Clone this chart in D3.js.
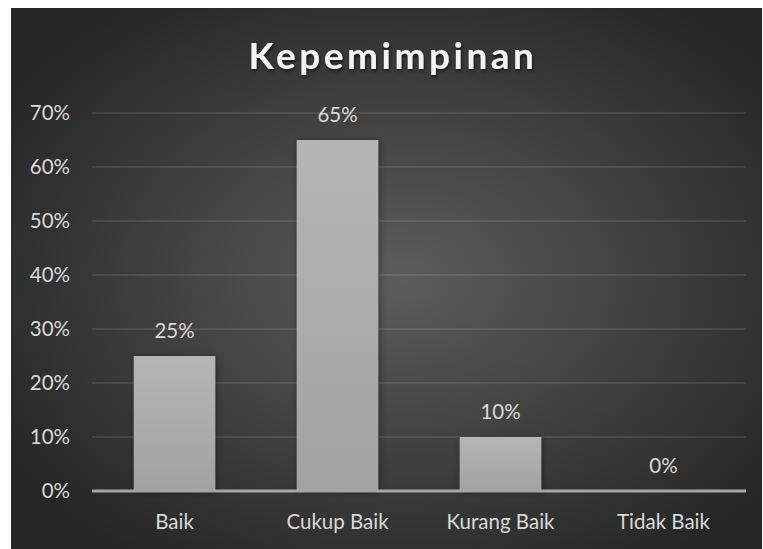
<!DOCTYPE html>
<html><head><meta charset="utf-8">
<script src="https://cdn.jsdelivr.net/npm/d3@7"></script>
<style>body{margin:0;background:#fff;}svg{display:block;}</style>
</head><body>
<script>
const categories = ["Baik", "Cukup Baik", "Kurang Baik", "Tidak Baik"];
const values = [0.25, 0.65, 0.10, 0.0];
const yTicks = [0, 0.1, 0.2, 0.3, 0.4, 0.5, 0.6, 0.7];
const title = "Kepemimpinan";

const W = 763, H = 549;
const svg = d3.select("body").append("svg").attr("width", W).attr("height", H);
const defs = svg.append("defs");
const rg = defs.append("radialGradient").attr("id","bg").attr("cx","52%").attr("cy","50%").attr("r","62%");
rg.append("stop").attr("offset","0%").attr("stop-color","#5c5c5c");
rg.append("stop").attr("offset","100%").attr("stop-color","#262626");
const lg = defs.append("linearGradient").attr("id","bar").attr("x1",0).attr("y1",0).attr("x2",0).attr("y2",1);
lg.append("stop").attr("offset","0%").attr("stop-color","#b5b5b5");
lg.append("stop").attr("offset","100%").attr("stop-color","#a2a2a2");
const sh = defs.append("filter").attr("id","sh").attr("x","-20%").attr("y","-20%").attr("width","140%").attr("height","140%");
sh.append("feDropShadow").attr("dx",1).attr("dy",1).attr("stdDeviation",3).attr("flood-color","#000").attr("flood-opacity",0.45);
const tsh = defs.append("filter").attr("id","tsh").attr("x","-10%").attr("y","-30%").attr("width","120%").attr("height","160%");
tsh.append("feDropShadow").attr("dx",1).attr("dy",2).attr("stdDeviation",1.5).attr("flood-color","#000").attr("flood-opacity",0.6);

svg.append("rect").attr("x",11).attr("y",8).attr("width",751).attr("height",541).attr("fill","url(#bg)");

const font = "Lato, 'Open Sans', sans-serif";
const fs = 20.5;
const x = d3.scaleBand().domain(categories).range([93, 745]).paddingInner(0.5).paddingOuter(0.25);
const y = d3.scaleLinear().domain([0, 0.7]).range([491, 113]);

svg.append("text").attr("x", 393).attr("y", 69).attr("text-anchor","middle")
  .attr("font-family", font).attr("font-weight","bold").attr("font-size", 37)
  .attr("letter-spacing", 3.5).attr("fill","#f2f2f2").attr("filter","url(#tsh)").text(title);

const grid = svg.append("g");
grid.selectAll("line").data(yTicks.filter(d=>d>0)).join("line")
  .attr("x1", 92).attr("x2", 746).attr("y1", d=>y(d)).attr("y2", d=>y(d))
  .attr("stroke","#ffffff").attr("stroke-opacity",0.13).attr("stroke-width",1.5);

const yAxis = d3.axisLeft(y).tickValues(yTicks).tickFormat(d3.format(".0%")).tickSize(0).tickPadding(0);
const ya = svg.append("g").attr("transform","translate(70,0)").call(yAxis);
ya.select(".domain").remove();
ya.selectAll("text").attr("font-family", font).attr("font-size", fs).attr("fill","#d9d9d9");

svg.append("g").selectAll("rect").data(values).join("rect")
  .attr("x", (d,i)=>x(categories[i])).attr("width", x.bandwidth())
  .attr("y", d=>y(d)).attr("height", d=>y(0)-y(d))
  .attr("fill","url(#bar)").attr("filter","url(#sh)");

svg.append("line").attr("x1",92).attr("x2",746).attr("y1",y(0)).attr("y2",y(0))
  .attr("stroke","#a6a6a6").attr("stroke-width",3);

svg.append("g").selectAll("text").data(values).join("text")
  .attr("x", (d,i)=>x(categories[i]) + x.bandwidth()/2).attr("y", d=>y(d)-18)
  .attr("text-anchor","middle").attr("font-family", font).attr("font-size", fs).attr("fill","#d9d9d9")
  .text(d=>d3.format(".0%")(d));

const xAxis = d3.axisBottom(x).tickSize(0).tickPadding(0);
const xa = svg.append("g").attr("transform",`translate(0,${y(0)+23})`).call(xAxis);
xa.select(".domain").remove();
xa.selectAll("text").attr("font-family", font).attr("font-size", fs).attr("fill","#d9d9d9").attr("dy","0.71em");
</script>
</body></html>
